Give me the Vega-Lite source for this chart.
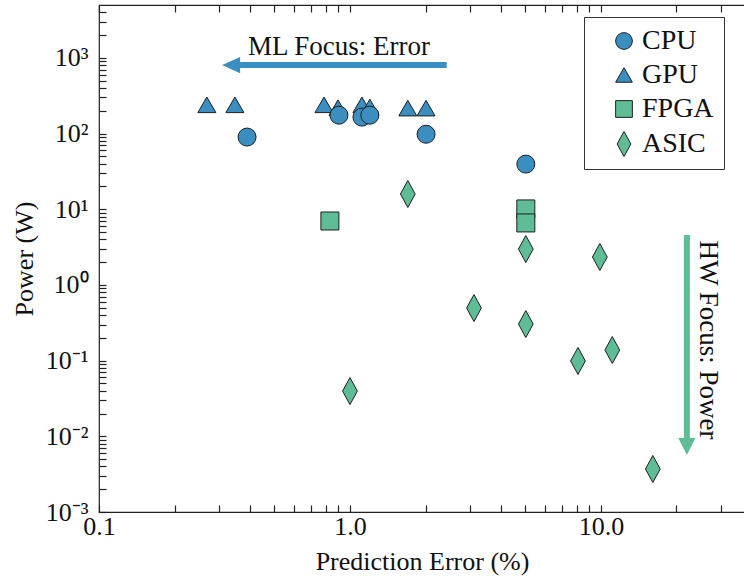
{
  "$schema": "https://vega.github.io/schema/vega-lite/v6.json",
  "width": 646,
  "height": 507,
  "autosize": {"type": "none"},
  "padding": {"left": 99, "top": 5, "right": 0, "bottom": 67},
  "background": "white",
  "config": {
    "font": "Liberation Serif",
    "view": {"stroke": "#222", "strokeWidth": 1.2},
    "axis": {
      "domain": false, "grid": false, "tickColor": "#222", "tickSize": -7, "tickWidth": 1.2,
      "labelFont": "Liberation Serif", "labelFontSize": 26, "labelColor": "#111",
      "titleFont": "Liberation Serif", "titleFontSize": 26, "titleFontWeight": "normal", "titleColor": "#111",
      "labelOverlap": false, "labelBound": false, "labelFlush": false
    }
  },
  "resolve": {"axis": {"x": "independent"}},
  "layer": [
    {
      "data": {"values": [
        {"error": 0.35, "error2": 2.43, "power": 804}
      ]},
      "mark": {"type": "rule", "strokeWidth": 6, "strokeCap": "butt", "color": "#3b8ec0"},
      "encoding": {
        "x": {"field": "error", "type": "quantitative", "scale": {"type": "log", "domain": [0.1, 37.5], "nice": false}, "axis": null},
        "x2": {"field": "error2"},
        "y": {"field": "power", "type": "quantitative", "scale": {"type": "log", "domain": [0.001, 5000], "nice": false}}
      }
    },
    {
      "data": {"values": [
        {"error": 22.0, "power": 4.56, "power2": 0.0075}
      ]},
      "mark": {"type": "rule", "strokeWidth": 6, "strokeCap": "butt", "color": "#5fbd96"},
      "encoding": {
        "x": {"field": "error", "type": "quantitative", "scale": {"type": "log", "domain": [0.1, 37.5], "nice": false}, "axis": null},
        "y": {"field": "power", "type": "quantitative", "scale": {"type": "log", "domain": [0.001, 5000], "nice": false}},
        "y2": {"field": "power2"}
      }
    },
    {
      "data": {"values": [{"error": 0.336, "power": 804}]},
      "mark": {"type": "point", "filled": true, "opacity": 1, "size": 324, "shape": "M-1,0L1,-0.9L1,0.9Z", "color": "#3b8ec0"},
      "encoding": {
        "x": {"field": "error", "type": "quantitative", "scale": {"type": "log", "domain": [0.1, 37.5], "nice": false}, "axis": null},
        "y": {"field": "power", "type": "quantitative", "scale": {"type": "log", "domain": [0.001, 5000], "nice": false}}
      }
    },
    {
      "data": {"values": [{"error": 22.0, "power": 0.00733}]},
      "mark": {"type": "point", "filled": true, "opacity": 1, "size": 324, "shape": "M0,0.95L-0.95,-0.95L0.95,-0.95Z", "color": "#5fbd96"},
      "encoding": {
        "x": {"field": "error", "type": "quantitative", "scale": {"type": "log", "domain": [0.1, 37.5], "nice": false}, "axis": null},
        "y": {"field": "power", "type": "quantitative", "scale": {"type": "log", "domain": [0.001, 5000], "nice": false}}
      }
    },
    {
      "data": {"values": [
        {"error": 0.904, "power": 1390, "label": "ML Focus: Error", "angle": 0},
        {"error": 26.7, "power": 0.187, "label": "HW Focus: Power", "angle": 90}
      ]},
      "mark": {"type": "text", "fontSize": 27, "font": "Liberation Serif", "color": "#111", "align": "center", "baseline": "middle"},
      "encoding": {
        "x": {"field": "error", "type": "quantitative", "scale": {"type": "log", "domain": [0.1, 37.5], "nice": false},
          "axis": {"orient": "top", "labels": false, "title": null, "values": [0.1,0.2,0.3,0.4,0.5,0.6,0.7,0.8,0.9,1,2,3,4,5,6,7,8,9,10,20,30]}},
        "y": {"field": "power", "type": "quantitative", "scale": {"type": "log", "domain": [0.001, 5000], "nice": false}},
        "text": {"field": "label"},
        "angle": {"field": "angle", "type": "quantitative", "scale": null}
      }
    },
    {
      "data": {"values": [
        {"type": "GPU", "error": 0.269, "power": 240},
        {"type": "GPU", "error": 0.348, "power": 240},
        {"type": "GPU", "error": 0.788, "power": 240},
        {"type": "GPU", "error": 0.896, "power": 220},
        {"type": "GPU", "error": 1.116, "power": 240},
        {"type": "GPU", "error": 1.2, "power": 225},
        {"type": "GPU", "error": 1.7, "power": 217},
        {"type": "GPU", "error": 2.01, "power": 217},
        {"type": "CPU", "error": 0.389, "power": 90},
        {"type": "CPU", "error": 0.904, "power": 175},
        {"type": "CPU", "error": 1.116, "power": 165},
        {"type": "CPU", "error": 1.2, "power": 175},
        {"type": "CPU", "error": 2.01, "power": 98},
        {"type": "CPU", "error": 5.02, "power": 39.5},
        {"type": "FPGA", "error": 0.832, "power": 7.0},
        {"type": "FPGA", "error": 5.02, "power": 10.1},
        {"type": "FPGA", "error": 5.02, "power": 6.6},
        {"type": "ASIC", "error": 1.7, "power": 15.9},
        {"type": "ASIC", "error": 5.02, "power": 2.98},
        {"type": "ASIC", "error": 3.12, "power": 0.495},
        {"type": "ASIC", "error": 5.02, "power": 0.304},
        {"type": "ASIC", "error": 9.9, "power": 2.34},
        {"type": "ASIC", "error": 8.1, "power": 0.099},
        {"type": "ASIC", "error": 11.1, "power": 0.138},
        {"type": "ASIC", "error": 1.0, "power": 0.0396},
        {"type": "ASIC", "error": 16.1, "power": 0.0037}
      ]},
      "mark": {"type": "point", "filled": true, "opacity": 1, "size": 324, "stroke": "#1e1e1e", "strokeWidth": 1},
      "encoding": {
        "x": {"field": "error", "type": "quantitative", "scale": {"type": "log", "domain": [0.1, 37.5], "nice": false},
          "axis": {"title": "Prediction Error (%)", "titlePadding": 9, "labelPadding": 8,
            "values": [0.1,0.2,0.3,0.4,0.5,0.6,0.7,0.8,0.9,1,2,3,4,5,6,7,8,9,10,20,30],
            "labelExpr": "datum.value==0.1?'0.1':datum.value==1?'1.0':datum.value==10?'10.0':''"}},
        "y": {"field": "power", "type": "quantitative", "scale": {"type": "log", "domain": [0.001, 5000], "nice": false},
          "axis": {"title": "Power (W)", "titlePadding": 8, "labelPadding": 18,
            "values": [0.001,0.002,0.003,0.004,0.005,0.006,0.007,0.008,0.009,0.01,0.02,0.03,0.04,0.05,0.06,0.07,0.08,0.09,0.1,0.2,0.3,0.4,0.5,0.6,0.7,0.8,0.9,1,2,3,4,5,6,7,8,9,10,20,30,40,50,60,70,80,90,100,200,300,400,500,600,700,800,900,1000,2000,3000,4000],
            "labelExpr": "datum.value==1000?'10³':datum.value==100?'10²':datum.value==10?'10¹':datum.value==1?'10⁰':datum.value==0.1?'10⁻¹':datum.value==0.01?'10⁻²':datum.value==0.001?'10⁻³':''"}},
        "shape": {"field": "type", "type": "nominal",
          "scale": {"domain": ["CPU", "GPU", "FPGA", "ASIC"], "range": ["circle", "triangle-up", "square", "M0,-1.5L0.82,0L0,1.5L-0.82,0Z"]},
          "legend": {"title": null, "orient": "none", "legendX": 485, "legendY": 12, "strokeColor": "#333", "fillColor": "white", "padding": 10,
            "labelFontSize": 28, "labelFont": "Liberation Serif", "labelColor": "#111", "symbolSize": 280, "symbolStrokeColor": "#1e1e1e", "symbolStrokeWidth": 1,
            "rowPadding": 6, "symbolOffset": 16, "labelOffset": 4, "labelExpr": "datum.label + '\u2002\u2002'"}},
        "color": {"field": "type", "type": "nominal",
          "scale": {"domain": ["CPU", "GPU", "FPGA", "ASIC"], "range": ["#3b8ec0", "#3b8ec0", "#5fbd96", "#5fbd96"]},
          "legend": {"title": null, "orient": "none", "legendX": 485, "legendY": 12, "strokeColor": "#333", "fillColor": "white", "padding": 10,
            "labelFontSize": 28, "labelFont": "Liberation Serif", "labelColor": "#111", "symbolSize": 280, "symbolStrokeColor": "#1e1e1e", "symbolStrokeWidth": 1,
            "rowPadding": 6, "symbolOffset": 16, "labelOffset": 4, "labelExpr": "datum.label + '\u2002\u2002'"}}
      }
    }
  ]
}
